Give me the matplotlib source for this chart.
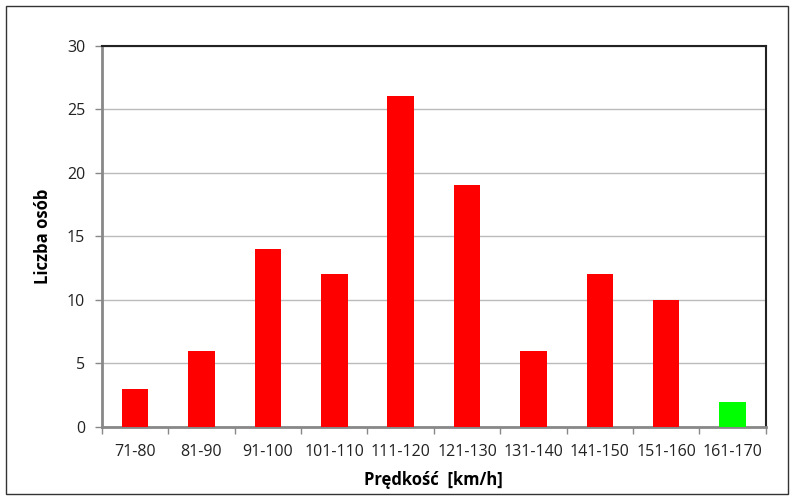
import matplotlib.pyplot as plt
from matplotlib.patches import Rectangle

# dane z wykresu
przedzialy = ['71-80', '81-90', '91-100', '101-110', '111-120',
              '121-130', '131-140', '141-150', '151-160', '161-170']
liczba_osob = [3, 6, 14, 12, 26, 19, 6, 12, 10, 2]
kolory = ['#ff0000'] * 9 + ['#00ff00']

plt.rcParams['font.family'] = ['Open Sans', 'DejaVu Sans']

fig = plt.figure(figsize=(7.96, 4.98), dpi=100)
ax = fig.add_axes([0.128, 0.1426, 0.834, 0.766])

x = list(range(len(przedzialy)))
ax.bar(x, liczba_osob, width=0.4, color=kolory, zorder=3)

ax.set_xlim(-0.5, len(przedzialy) - 0.5)
ax.set_ylim(0, 30)
ax.set_yticks(range(0, 31, 5))
ax.set_xticks(x)
ax.set_xticklabels(przedzialy, fontsize=11.5, color='#222222')
ax.tick_params(axis='x', length=0, pad=12)
ax.set_xticks([i + 0.5 for i in range(-1, len(przedzialy))], minor=True)
ax.tick_params(axis='x', which='minor', length=5, color='#888888', width=1)
ax.tick_params(axis='y', length=5, color='#888888', width=1, labelsize=11.5,
               labelcolor='#222222', pad=7)

ax.grid(axis='y', color='#bbbbbb', linewidth=1, zorder=0)
ax.spines['left'].set_color('#888888')
ax.spines['bottom'].set_color('#888888')
ax.spines['left'].set_linewidth(2)
ax.spines['bottom'].set_linewidth(2)
ax.spines['top'].set_color('#222222')
ax.spines['right'].set_color('#222222')
ax.spines['top'].set_linewidth(1.5)
ax.spines['right'].set_linewidth(1.5)

ax.set_ylabel('Liczba osób', fontsize=12, fontweight='bold', labelpad=11)
ax.set_xlabel('Prędkość  [km/h]', fontsize=12, fontweight='bold', labelpad=8)

# ramka wokół całego wykresu
fig.patches.append(Rectangle((6 / 796, 4 / 498), 782 / 796, 488 / 498,
                             transform=fig.transFigure, fill=False,
                             edgecolor='#333333', linewidth=1))

fig.savefig('out.png', dpi=100)
